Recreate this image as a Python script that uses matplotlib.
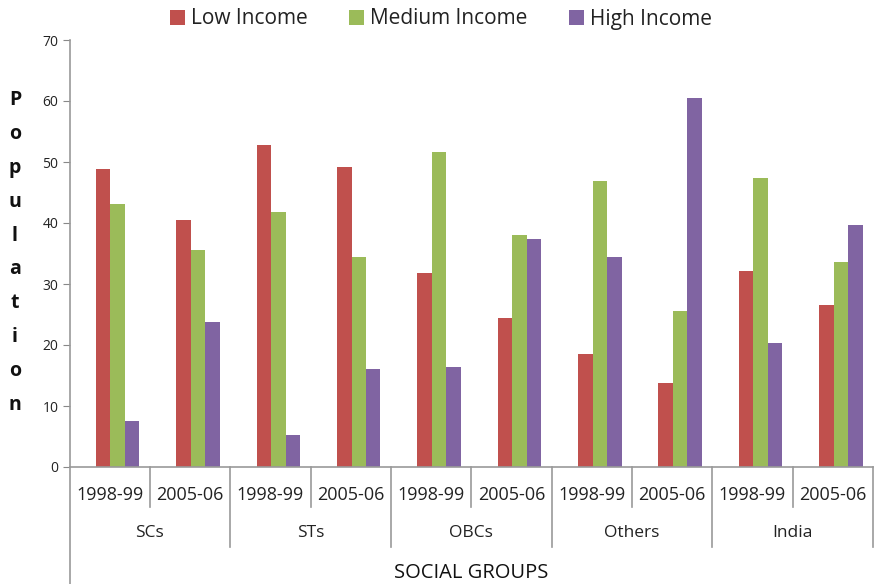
import matplotlib
matplotlib.use("Agg")
import matplotlib.pyplot as plt
import matplotlib.transforms as mtransforms
from matplotlib.lines import Line2D
import numpy as np

plt.rcParams['font.family'] = ['Open Sans', 'DejaVu Sans']

groups = ["SCs", "STs", "OBCs", "Others", "India"]
years = ["1998-99", "2005-06"]
series_names = ["Low Income", "Medium Income", "High Income"]
low_income = [48.9, 40.5, 52.8, 49.2, 31.8, 24.4, 18.5, 13.8, 32.2, 26.6]
medium_income = [43.1, 35.5, 41.8, 34.5, 51.6, 38.0, 46.9, 25.6, 47.3, 33.6]
high_income = [7.6, 23.8, 5.3, 16.0, 16.4, 37.3, 34.4, 60.5, 20.3, 39.6]
colors = ["#C0504D", "#9BBB59", "#8064A2"]
y_ticks = [0, 10, 20, 30, 40, 50, 60, 70]

fig = plt.figure(figsize=(8.78, 5.84), dpi=100)
ax = fig.add_axes([69.5 / 878, 117 / 584, (873 - 69.5) / 878, 427 / 584])

n = len(low_income)
slots = np.arange(n) + 0.5
bw = 0.18
shift = 0.1
for k, (vals, c, name) in enumerate(zip([low_income, medium_income, high_income], colors, series_names)):
    ax.bar(slots + shift + (k - 1) * bw, vals, width=bw, color=c, label=name,
           edgecolor='none', zorder=2)

ax.set_xlim(0, n)
ax.set_ylim(0, 70)
ax.set_yticks(y_ticks)
ax.tick_params(axis='y', labelsize=10, length=5, color='#888888', labelcolor='#222222', pad=3)
ax.set_xticks([])
for s in ['top', 'right']:
    ax.spines[s].set_visible(False)
ax.spines['left'].set_color('#999999')
ax.spines['bottom'].set_color('#999999')
ax.spines['left'].set_linewidth(1.2)
ax.spines['bottom'].set_linewidth(1.2)

# two-level category axis
trans = mtransforms.blended_transform_factory(ax.transData, ax.transAxes)
px = 1 / 427.0
for b in range(0, n + 1):
    if b == 0:
        y_end = -117 * px
    elif b % 2 == 0:
        y_end = -80 * px
    else:
        y_end = -40 * px
    ax.add_line(Line2D([b, b], [0, y_end], transform=trans, color='#999999',
                       lw=1.2, clip_on=False))
for i in range(n):
    ax.text(i + 0.5, -28 * px, years[i % 2], transform=trans, ha='center', va='center',
            fontsize=13, color='#222222')
for g, name in enumerate(groups):
    ax.text(2 * g + 1, -66 * px, name, transform=trans, ha='center', va='center',
            fontsize=12.5, color='#222222')
ax.text(0.5, -106 * px, "SOCIAL GROUPS", transform=ax.transAxes, ha='center', va='center',
        fontsize=14.5, color='#111111')

# stacked vertical y-axis title
label = "Population"
y_top, y_bot = 100, 405
for j, ch in enumerate(label):
    ypix = y_top + j * (y_bot - y_top) / (len(label) - 1)
    fig.text(15 / 878, 1 - ypix / 584, ch, ha='center', va='center', fontsize=14,
             fontweight='bold', color='#111111')

fig.legend(loc='center', bbox_to_anchor=(441 / 878, 1 - 19 / 584), ncol=3, frameon=False,
           fontsize=15, handlelength=0.7, handleheight=0.7, handletextpad=0.3,
           columnspacing=2.0, labelcolor='#222222')

fig.savefig("out.png", dpi=100, facecolor='white')
